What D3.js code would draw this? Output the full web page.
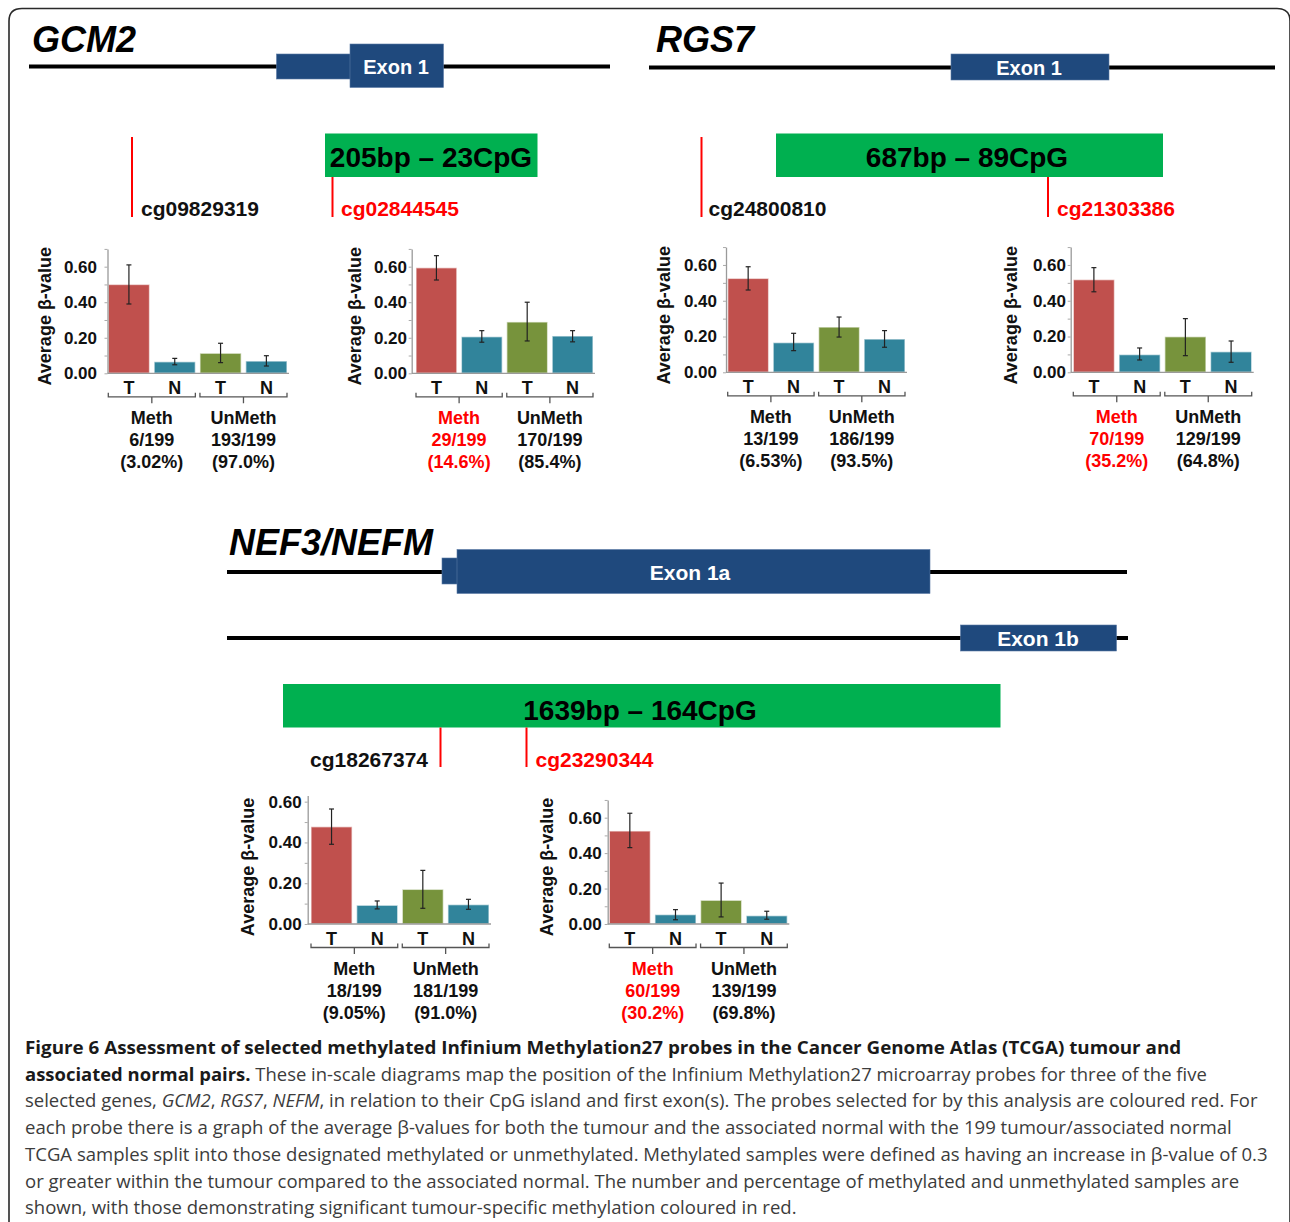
<!DOCTYPE html>
<html>
<head>
<meta charset="utf-8">
<script src="https://cdn.jsdelivr.net/npm/d3@7"></script>
<style>
  body { margin: 0; background: #fff; }
  svg { display: block; }
</style>
</head>
<body>
<svg id="fig" width="1290" height="1222"></svg>
<script>
// ---- data ----
const geneNames = ["GCM2", "RGS7", "NEF3/NEFM"];
const exonNames = ["Exon 1", "Exon 1", "Exon 1a", "Exon 1b"];
const islandLabels = ["205bp – 23CpG", "687bp – 89CpG", "1639bp – 164CpG"];
const probeIds = ["cg09829319", "cg02844545", "cg24800810", "cg21303386", "cg18267374", "cg23290344"];
const probeSelected = [false, true, false, true, false, true];

const barLabels = ["T", "N", "T", "N"];
const groupNames = ["Meth", "UnMeth"];

// average beta-values per probe: Meth T, Meth N, UnMeth T, UnMeth N
const betaMean = [
  [0.500, 0.065, 0.113, 0.069],
  [0.594, 0.206, 0.289, 0.210],
  [0.525, 0.166, 0.253, 0.186],
  [0.518, 0.099, 0.199, 0.115],
  [0.477, 0.092, 0.170, 0.095],
  [0.525, 0.053, 0.134, 0.047]
];
const betaLow = [
  [0.390, 0.048, 0.060, 0.041],
  [0.525, 0.175, 0.182, 0.177],
  [0.460, 0.121, 0.197, 0.140],
  [0.450, 0.069, 0.093, 0.056],
  [0.391, 0.074, 0.077, 0.072],
  [0.431, 0.024, 0.040, 0.027]
];
const betaHigh = [
  [0.610, 0.084, 0.169, 0.099],
  [0.662, 0.240, 0.400, 0.240],
  [0.590, 0.218, 0.309, 0.233],
  [0.585, 0.136, 0.300, 0.175],
  [0.564, 0.113, 0.263, 0.121],
  [0.625, 0.081, 0.231, 0.072]
];
const methCount = [6, 29, 13, 70, 18, 60];
const unmethCount = [193, 170, 186, 129, 181, 139];
const sampleTotal = 199;
const methPct = ["3.02%", "14.6%", "6.53%", "35.2%", "9.05%", "30.2%"];
const unmethPct = ["97.0%", "85.4%", "93.5%", "64.8%", "91.0%", "69.8%"];
const yTickValues = [0, 0.1, 0.2, 0.3, 0.4, 0.5, 0.6, 0.7];

const captionLines = [
  [["b", "Figure 6 Assessment of selected methylated Infinium Methylation27 probes in the Cancer Genome Atlas (TCGA) tumour and"]],
  [["b", "associated normal pairs."], ["r", " These in-scale diagrams map the position of the Infinium Methylation27 microarray probes for three of the five"]],
  [["r", "selected genes, "], ["i", "GCM2"], ["r", ", "], ["i", "RGS7"], ["r", ", "], ["i", "NEFM"], ["r", ", in relation to their CpG island and first exon(s). The probes selected for by this analysis are coloured red. For"]],
  [["r", "each probe there is a graph of the average β-values for both the tumour and the associated normal with the 199 tumour/associated normal"]],
  [["r", "TCGA samples split into those designated methylated or unmethylated. Methylated samples were defined as having an increase in β-value of 0.3"]],
  [["r", "or greater within the tumour compared to the associated normal. The number and percentage of methylated and unmethylated samples are"]],
  [["r", "shown, with those demonstrating significant tumour-specific methylation coloured in red."]]
];

// ---- layout ----
const FONT = '"Liberation Sans", Arial, sans-serif';
const barColors = ["#C0504D", "#31849B", "#77933C", "#31849B"];
const RED = "#FF0000";

const headers = [
  { gene: 0, tx: 32, ty: 52,
    lines: [{ y: 66.5, x0: 29, x1: 610 }],
    exons: [{ x: 276.5, y: 54, w: 74, h: 25 }, { x: 350, y: 44, w: 93.5, h: 43.5, name: 0, lx: 396, ly: 74, fs: 20 }],
    island: { x: 325, y: 133.5, w: 212.5, h: 43.5, label: 0, lx: 431, ly: 166.5 },
    probes: [{ p: 0, x: 132, y0: 137, y1: 217, lx: 141, ly: 216, anchor: "start" },
             { p: 1, x: 332.5, y0: 177, y1: 217, lx: 341, ly: 216, anchor: "start" }] },
  { gene: 1, tx: 656, ty: 52,
    lines: [{ y: 67.5, x0: 649, x1: 1275 }],
    exons: [{ x: 951, y: 54, w: 158, h: 26, name: 1, lx: 1029, ly: 74.5, fs: 20 }],
    island: { x: 776, y: 133.5, w: 387, h: 43.5, label: 1, lx: 967, ly: 166.5 },
    probes: [{ p: 2, x: 701.5, y0: 137, y1: 217, lx: 708.5, ly: 216, anchor: "start" },
             { p: 3, x: 1048, y0: 177, y1: 217, lx: 1057, ly: 216, anchor: "start" }] },
  { gene: 2, tx: 229, ty: 555,
    lines: [{ y: 572, x0: 227, x1: 1127 }, { y: 638, x0: 227, x1: 1128 }],
    exons: [{ x: 442, y: 558, w: 16, h: 26 }, { x: 457, y: 549.5, w: 473, h: 44, name: 2, lx: 690, ly: 579.5, fs: 21 },
            { x: 960.5, y: 625, w: 156, h: 26, name: 3, lx: 1038, ly: 645.5, fs: 21 }],
    island: { x: 283, y: 684, w: 717.5, h: 43.5, label: 2, lx: 640, ly: 719.5 },
    probes: [{ p: 4, x: 440.5, y0: 727.5, y1: 767, lx: 428, ly: 767, anchor: "end" },
             { p: 5, x: 526.5, y0: 727.5, y1: 767, lx: 535.5, ly: 767, anchor: "start" }] }
];

const charts = [
  { ax: 107.5, zero: 373.3, ppu: 177.7, top: 0.70, b0: 108.3, b1: 287, tickR: 97, labX: 45 },
  { ax: 411.7, zero: 373.3, ppu: 177.7, top: 0.70, b0: 416, b1: 593, tickR: 407, labX: 355 },
  { ax: 726, zero: 372.3, ppu: 178.9, top: 0.70, b0: 727.7, b1: 905, tickR: 717, labX: 664 },
  { ax: 1070.7, zero: 372.3, ppu: 178.9, top: 0.70, b0: 1073.3, b1: 1251.7, tickR: 1066, labX: 1010.7 },
  { ax: 307.7, zero: 924, ppu: 203.9, top: 0.63, b0: 311, b1: 489, tickR: 301.7, labX: 248.3 },
  { ax: 607.7, zero: 924, ppu: 177.2, top: 0.70, b0: 609.3, b1: 787.3, tickR: 601.7, labX: 546.7 }
];

const svg = d3.select("#fig");

// frame
svg.append("path")
  .attr("d", "M9,1240 V21 Q9,8.5 22,8.5 H1277 Q1290,8.5 1290,21 V1240")
  .attr("fill", "none").attr("stroke", "#2a2a2a").attr("stroke-width", 1.6);

// ---- gene diagrams ----
headers.forEach(h => {
  const g = svg.append("g");
  g.append("text").attr("x", h.tx).attr("y", h.ty)
    .attr("font-family", FONT).attr("font-weight", "bold").attr("font-style", "italic")
    .attr("font-size", 36).attr("fill", "#000").text(geneNames[h.gene]);

  g.selectAll(".gline").data(h.lines).join("line")
    .attr("x1", d => d.x0).attr("x2", d => d.x1).attr("y1", d => d.y).attr("y2", d => d.y)
    .attr("stroke", "#000").attr("stroke-width", 4);

  g.selectAll(".exon").data(h.exons).join("rect")
    .attr("x", d => d.x).attr("y", d => d.y).attr("width", d => d.w).attr("height", d => d.h)
    .attr("fill", "#1F497D").attr("stroke", "#5a7aa6").attr("stroke-width", 0.6);

  g.selectAll(".exlab").data(h.exons.filter(d => d.name !== undefined)).join("text")
    .attr("x", d => d.lx).attr("y", d => d.ly).attr("text-anchor", "middle")
    .attr("font-family", FONT).attr("font-weight", "bold").attr("font-size", d => d.fs)
    .attr("fill", "#fff").text(d => exonNames[d.name]);

  const is = h.island;
  g.append("rect").attr("x", is.x).attr("y", is.y).attr("width", is.w).attr("height", is.h)
    .attr("fill", "#00B050");
  g.append("text").attr("x", is.lx).attr("y", is.ly).attr("text-anchor", "middle")
    .attr("font-family", FONT).attr("font-weight", "bold").attr("font-size", 28)
    .attr("fill", "#000").text(islandLabels[is.label]);

  h.probes.forEach(p => {
    g.append("line").attr("x1", p.x).attr("x2", p.x).attr("y1", p.y0).attr("y2", p.y1)
      .attr("stroke", RED).attr("stroke-width", 2);
    g.append("text").attr("x", p.lx).attr("y", p.ly).attr("text-anchor", p.anchor)
      .attr("font-family", FONT).attr("font-weight", "bold").attr("font-size", 21)
      .attr("fill", probeSelected[p.p] ? RED : "#111").text(probeIds[p.p]);
  });
});

// ---- bar charts ----
charts.forEach((c, k) => {
  const y = d3.scaleLinear().domain([0, c.top]).range([c.zero, c.zero - c.top * c.ppu]);
  const x = d3.scaleBand().domain(d3.range(barLabels.length)).range([c.b0, c.b1]).paddingInner(0.1);
  const bw = x.bandwidth();
  const g = svg.append("g");

  // bars
  g.selectAll(".bar").data(betaMean[k]).join("rect")
    .attr("x", (d, i) => x(i)).attr("y", d => y(d))
    .attr("width", bw).attr("height", d => y(0) - y(d))
    .attr("fill", (d, i) => barColors[i])
    .attr("stroke", "rgba(255,255,255,0.6)").attr("stroke-width", 1.4);

  // error bars
  const eb = g.selectAll(".err").data(betaMean[k]).join("g")
    .attr("transform", (d, i) => `translate(${x(i) + bw / 2},0)`);
  eb.append("line").attr("y1", (d, i) => y(betaLow[k][i])).attr("y2", (d, i) => y(betaHigh[k][i]))
    .attr("stroke", "#222").attr("stroke-width", 1.2);
  eb.append("line").attr("x1", -2.5).attr("x2", 2.5)
    .attr("y1", (d, i) => y(betaHigh[k][i])).attr("y2", (d, i) => y(betaHigh[k][i]))
    .attr("stroke", "#222").attr("stroke-width", 1.2);
  eb.append("line").attr("x1", -2.5).attr("x2", 2.5)
    .attr("y1", (d, i) => y(betaLow[k][i])).attr("y2", (d, i) => y(betaLow[k][i]))
    .attr("stroke", "#222").attr("stroke-width", 1.2);

  // y axis
  const tv = yTickValues.filter(v => v <= c.top + 1e-9);
  g.append("g").attr("transform", `translate(${c.ax},0)`)
    .call(d3.axisLeft(y).tickValues(tv).tickSize(3).tickSizeOuter(0)
      .tickPadding(c.ax - c.tickR - 3)
      .tickFormat(v => Math.round(v * 10) % 2 === 0 ? d3.format(".2f")(v) : ""))
    .attr("font-family", FONT).attr("font-weight", "bold").attr("font-size", 17)
    .call(a => {
      a.select(".domain").attr("stroke", "#9a9a9a").attr("stroke-width", 1.3);
      a.selectAll(".tick line").attr("stroke", "#aaa");
      a.selectAll(".tick text").attr("fill", "#111");
    });

  // x axis line
  g.append("line").attr("x1", c.ax).attr("x2", c.b1 + 2).attr("y1", c.zero).attr("y2", c.zero)
    .attr("stroke", "#9a9a9a").attr("stroke-width", 1.3);

  // T / N labels
  g.append("g").attr("transform", `translate(0,${c.zero})`)
    .call(d3.axisBottom(x).tickSize(0).tickPadding(8).tickFormat(i => barLabels[i]))
    .attr("font-family", FONT).attr("font-weight", "bold").attr("font-size", 18)
    .call(a => {
      a.select(".domain").remove();
      a.selectAll(".tick text").attr("fill", "#111");
    });

  // group brackets and labels
  groupNames.forEach((name, gi) => {
    const xs = x(gi * 2), xe = x(gi * 2 + 1) + bw, mid = (xs + xe) / 2;
    const by = c.zero + 23.5;
    g.append("path")
      .attr("d", `M${xs},${by - 4}V${by}H${xe}V${by - 4}M${mid},${by}V${by + 6.5}`)
      .attr("fill", "none").attr("stroke", "#555").attr("stroke-width", 1.3);
    const red = gi === 0 && probeSelected[k];
    const lines = gi === 0
      ? [name, `${methCount[k]}/${sampleTotal}`, `(${methPct[k]})`]
      : [name, `${unmethCount[k]}/${sampleTotal}`, `(${unmethPct[k]})`];
    g.selectAll(null).data(lines).join("text")
      .attr("x", mid).attr("y", (d, j) => c.zero + 51 + j * 22)
      .attr("text-anchor", "middle")
      .attr("font-family", FONT).attr("font-weight", "bold").attr("font-size", 18)
      .attr("fill", red ? RED : "#111").text(d => d);
  });

  // y label
  g.append("text")
    .attr("transform", `translate(${c.labX},${c.zero - 57}) rotate(-90)`)
    .attr("text-anchor", "middle").attr("dominant-baseline", "central")
    .attr("font-family", FONT).attr("font-weight", "bold").attr("font-size", 18)
    .attr("fill", "#111").text("Average β-value");
});

// ---- caption ----
const captionX = 25;
const captionEnds = [1182, 1208, 1258, 1232, 1268, 1240, 797];
captionLines.forEach((parts, li) => {
  const t = svg.append("text")
    .attr("font-family", '"Open Sans", sans-serif').attr("font-size", 18.5)
    .style("white-space", "pre");
  parts.forEach(([kind, str]) => {
    t.append("tspan")
      .attr("font-weight", kind === "b" ? "bold" : "normal")
      .attr("font-style", kind === "i" ? "italic" : "normal")
      .attr("fill", kind === "b" ? "#1a1a1a" : "#3c3c3c")
      .text(str);
  });
  const w = t.node().getComputedTextLength();
  const kx = (captionEnds[li] - captionX) / w;
  t.attr("transform", `translate(${captionX},${1054 + li * 26.7}) scale(${kx},1)`);
});
</script>
</body>
</html>
